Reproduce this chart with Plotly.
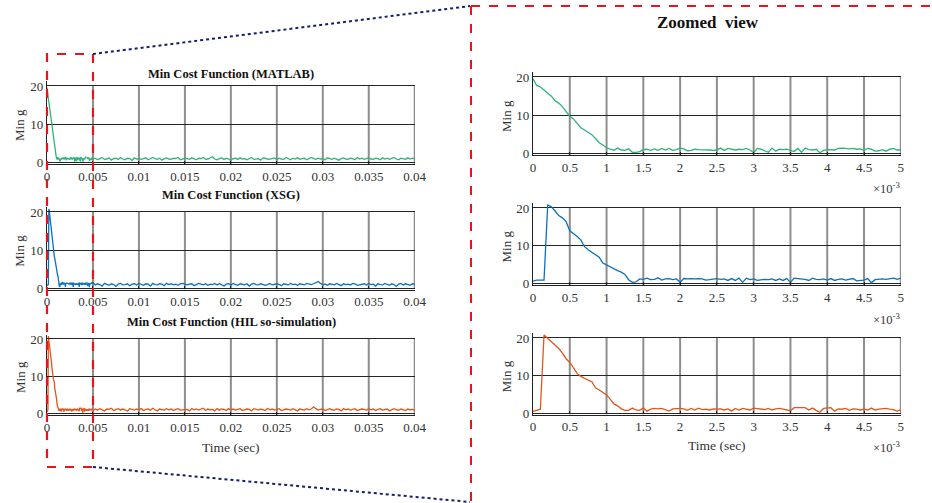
import plotly.graph_objects as go

# ---- data -------------------------------------------------------------
# zoomed window: 0 .. 5 ms, sample step 0.05 ms
zoom_step_ms = 0.05
matlab_zoom = [19.6, 17.8, 17.4, 16.6, 15.9, 15.0, 13.8, 13.2, 12.3, 11.0,
               9.8, 9.1, 8.0, 6.8, 6.2, 5.5, 5.0, 4.0, 2.9, 2.3,
               1.6, 1.2, 0.9, 1.5, 1.0, 0.9, 1.3, 0.4, 0.4, 0.6,
               1.1, 1.2, 0.9, 1.3, 0.9, 1.4, 1.0, 1.4, 0.9, 1.1,
               1.5, 1.3, 0.8, 0.9, 1.2, 1.1, 1.1, 1.0, 1.0, 0.9,
               1.0, 1.5, 0.9, 1.4, 1.1, 1.0, 1.2, 1.1, 1.4, 1.0,
               0.3, 1.4, 1.2, 0.9, 0.4, 1.5, 0.7, 1.2, 1.1, 1.2,
               0.9, 0.6, 1.4, 0.4, 1.5, 1.1, 1.0, 1.2, 0.3, 0.9,
               1.1, 1.0, 1.0, 1.4, 1.5, 1.4, 1.3, 1.4, 1.2, 1.3,
               0.9, 1.4, 1.2, 0.7, 0.8, 1.1, 0.7, 1.2, 1.4, 1.0,
               1.0]
xsg_zoom = [0.7, 1.0, 1.0, 1.0, 20.8, 20.3, 19.2, 18.0, 17.4, 16.4,
            14.0, 13.3, 12.5, 11.6, 9.8, 9.0, 8.3, 7.8, 7.0, 5.5,
            5.0, 4.3, 3.9, 3.5, 3.1, 2.5, 1.1, 0.4, 0.5, 1.3,
            1.2, 1.5, 1.1, 1.2, 1.6, 1.0, 1.3, 1.4, 1.1, 1.3,
            0.4, 1.4, 1.3, 1.4, 1.3, 1.4, 1.3, 1.0, 1.1, 1.3,
            1.4, 1.2, 1.3, 0.9, 1.4, 0.9, 1.5, 0.4, 1.5, 1.1,
            1.3, 0.9, 1.1, 1.2, 1.1, 1.3, 0.9, 1.3, 0.9, 1.4,
            0.4, 1.5, 1.4, 1.3, 1.2, 0.9, 1.5, 1.2, 1.1, 1.3,
            1.0, 1.4, 0.9, 1.2, 1.3, 1.0, 1.3, 1.4, 0.8, 0.9,
            1.0, 1.4, 0.3, 1.1, 1.2, 1.3, 1.2, 1.3, 1.5, 1.2,
            1.5]
hil_zoom = [0.5, 0.8, 1.1, 20.8, 19.9, 18.8, 18.0, 17.2, 16.0, 14.5,
            13.5, 12.0, 10.6, 9.8, 9.2, 8.8, 8.4, 6.8, 6.2, 5.5,
            4.9, 3.8, 2.5, 2.0, 1.2, 0.8, 0.8, 1.4, 0.9, 0.8,
            1.4, 0.6, 1.1, 1.3, 1.2, 1.3, 0.9, 0.6, 1.2, 1.3,
            1.3, 1.2, 0.8, 1.3, 0.9, 1.4, 1.0, 1.1, 0.9, 1.2,
            1.1, 1.2, 0.9, 1.2, 0.6, 1.3, 0.9, 1.3, 1.2, 0.9,
            1.4, 1.2, 1.1, 1.0, 1.3, 0.9, 1.2, 1.3, 1.1, 0.9,
            0.7, 1.5, 1.5, 1.4, 1.5, 0.9, 1.4, 0.8, 0.3, 1.3,
            1.4, 1.5, 0.6, 1.2, 1.1, 1.3, 0.8, 1.2, 1.1, 0.9,
            1.1, 0.9, 1.4, 0.9, 1.1, 1.2, 1.3, 1.1, 1.0, 0.6,
            0.9]

# remainder of the run: 5.25 .. 40 ms, sample step 0.25 ms
tail_start_ms = 5.25
tail_step_ms = 0.25
matlab_tail = [1.2, 0.8, 1.1, 1.4, 0.9, 1.0, 1.3, 0.7, 1.1, 1.2, 0.9, 1.4, 1.0, 0.8, 1.2, 1.1, 0.6, 1.3, 1.0, 1.1,
               0.9, 1.2, 1.3, 0.8, 1.0, 1.4, 1.1, 0.9, 1.2, 0.7, 1.1, 1.3, 1.0, 0.9, 1.2, 1.1, 1.4, 0.8, 1.0, 1.2,
               1.1, 0.9, 1.3, 1.0, 0.8, 1.2, 1.1, 1.4, 0.9, 1.0, 1.2, 1.6, 1.0, 0.8, 1.1, 1.3, 0.9, 1.2, 1.0, 0.7,
               1.1, 1.2, 0.9, 1.3, 1.0, 1.1, 0.8, 1.2, 1.4, 0.9, 1.0, 1.1, 0.7, 1.3, 1.2, 0.9, 1.0, 1.1, 1.3, 0.8,
               1.2, 1.0, 0.9, 1.4, 1.1, 0.8, 1.2, 1.0, 1.3, 0.9, 1.1, 1.2, 0.8, 1.0, 1.4, 1.1, 0.9, 1.2, 1.0, 1.1,
               0.8, 1.3, 1.1, 0.9, 1.2, 1.0, 0.7, 1.1, 1.3, 1.0, 0.9, 1.2, 1.1, 0.8, 1.4, 1.0, 1.2, 0.9, 1.1, 1.3,
               1.0, 0.9, 1.2, 1.1, 0.8, 1.3, 1.0, 1.2, 0.9, 1.1, 1.4, 1.0, 0.8, 1.2, 1.1, 0.9, 1.3, 1.0, 1.2, 1.1]
xsg_tail = [0.9, 1.2, 1.0, 0.6, 1.3, 1.1, 0.8, 1.2, 1.0, 0.5, 1.1, 1.3, 0.9, 1.0, 1.2, 0.7, 1.1, 1.2, 0.9, 1.3,
            1.0, 0.8, 1.2, 1.1, 0.6, 1.3, 1.0, 0.9, 1.2, 1.1, 0.7, 1.3, 1.0, 1.2, 0.9, 1.1, 0.8, 1.2, 1.3, 1.0,
            0.9, 1.1, 1.2, 0.7, 1.0, 1.3, 1.1, 0.9, 1.2, 0.8, 1.1, 1.0, 1.3, 0.9, 1.2, 1.0, 0.6, 1.1, 1.2, 0.9,
            1.3, 1.0, 0.8, 1.2, 1.1, 0.9, 1.2, 0.6, 1.1, 1.3, 1.0, 0.9, 1.2, 1.1, 0.8, 1.0, 1.3, 0.9, 1.1, 1.2,
            1.0, 0.7, 1.2, 1.1, 0.9, 1.3, 1.0, 1.1, 0.8, 1.2, 1.0, 0.9, 1.3, 1.1, 1.0, 1.2, 1.4, 1.8, 1.3, 1.0,
            1.1, 0.8, 1.2, 1.0, 0.9, 1.3, 1.1, 0.7, 1.2, 1.0, 1.1, 0.9, 1.3, 1.2, 0.8, 1.0, 1.1, 1.2, 0.9, 1.3,
            1.0, 1.1, 0.6, 1.2, 1.0, 0.9, 1.3, 1.1, 0.8, 1.2, 1.0, 0.5, 1.1, 1.3, 0.9, 1.2, 1.0, 0.8, 1.2, 1.1]
hil_tail = [1.3, 1.0, 1.4, 1.1, 0.8, 1.3, 1.2, 1.5, 0.9, 1.2, 1.4, 1.0, 1.3, 1.1, 0.7, 1.4, 1.2, 1.0, 1.3, 1.1,
            1.4, 0.9, 1.2, 1.3, 1.0, 1.5, 1.1, 0.8, 1.3, 1.2, 1.0, 1.4, 1.1, 1.3, 0.9, 1.2, 1.4, 1.0, 1.1, 1.3,
            1.2, 0.8, 1.4, 1.1, 1.3, 1.0, 1.2, 1.5, 0.9, 1.3, 1.1, 1.2, 0.8, 1.4, 1.0, 1.3, 1.2, 0.9, 1.4, 1.1,
            1.3, 1.0, 1.2, 1.4, 0.9, 1.1, 1.3, 1.2, 0.8, 1.4, 1.1, 1.0, 1.3, 1.2, 0.9, 1.5, 1.1, 1.3, 1.0, 1.2,
            1.4, 0.9, 1.1, 1.3, 1.2, 1.0, 1.4, 1.1, 0.8, 1.3, 1.2, 1.0, 1.4, 1.1, 1.3, 1.9, 1.4, 1.0, 1.2, 1.3,
            0.9, 1.2, 1.4, 1.1, 1.0, 1.3, 1.2, 0.8, 1.4, 1.1, 1.3, 1.0, 1.2, 1.4, 0.9, 1.1, 1.3, 1.2, 1.0, 1.4,
            1.1, 1.3, 0.9, 1.2, 1.4, 1.0, 1.1, 1.3, 0.8, 1.2, 1.4, 1.1, 1.0, 1.3, 1.2, 0.9, 1.3, 1.1, 1.2, 1.0]

panel_titles = ["Min Cost Function (MATLAB)", "Min Cost Function (XSG)",
                "Min Cost Function (HIL so-simulation)"]
series_colors = ["#2BB57A", "#0A72BD", "#E0561E"]

full_ticks = [0, 0.005, 0.01, 0.015, 0.02, 0.025, 0.03, 0.035, 0.04]
full_ticktext = ["0", "0.005", "0.01", "0.015", "0.02", "0.025", "0.03", "0.035", "0.04"]
zoom_ticks = [0, 0.5, 1, 1.5, 2, 2.5, 3, 3.5, 4, 4.5, 5]
zoom_ticktext = ["0", "0.5", "1", "1.5", "2", "2.5", "3", "3.5", "4", "4.5", "5"]
y_ticks = [0, 10, 20]

# ---- time bases ---------------------------------------------------------
t_zoom_ms = [round(i * zoom_step_ms, 4) for i in range(len(matlab_zoom))]
t_tail_ms = [round(tail_start_ms + i * tail_step_ms, 4) for i in range(len(matlab_tail))]
t_full_s = [t / 1000.0 for t in t_zoom_ms + t_tail_ms]

zoom_series = [matlab_zoom, xsg_zoom, hil_zoom]
full_series = [matlab_zoom + matlab_tail, xsg_zoom + xsg_tail, hil_zoom + hil_tail]

# ---- layout geometry ------------------------------------------------------
W, H = 932, 503
SERIF = "Liberation Serif, Times New Roman, serif"
Y_LO, Y_GRID_TOP, Y_HI = -0.3, 20.0, 21.2


def px(x):
    return x / W


def py(y):
    return 1 - y / H


def row_domain(top20, bottom):
    # top20 = pixel row of the y=20 gridline, bottom = pixel row of the x axis
    unit = (bottom - top20) / (Y_GRID_TOP - Y_LO)
    top = top20 - (Y_HI - Y_GRID_TOP) * unit
    return [py(bottom), py(top)]


left_x0, left_x1 = 47, 415
right_x0, right_x1 = 533, 901
left_dom = [px(left_x0), px(left_x1)]
right_dom = [px(right_x0), px(right_x1)]
left_rows = [(86, 164), (212, 289.5), (339, 415)]
right_rows = [(77, 155), (208, 285), (338, 414.5)]

fig = go.Figure()

axis_common = dict(showline=True, linecolor="#222", linewidth=1.2,
                   ticks="inside", ticklen=3, tickcolor="#222", zeroline=False,
                   automargin=False,
                   tickfont=dict(family=SERIF, size=13, color="#333333"))
grid_h = dict(showgrid=True, gridcolor="#262626", gridwidth=1)
vgrid_color = "#8e8e8e"

layout = dict(
    template="none",
    width=W, height=H,
    margin=dict(l=0, r=0, t=0, b=0, autoexpand=False),
    paper_bgcolor="white", plot_bgcolor="white",
    showlegend=False,
)

shapes = []


def vertical_grid(xname, yname, ticks):
    # vertical grid lines that stop at the y = 20 grid line
    return [dict(type="line", xref=xname, yref=yname, x0=t, x1=t, y0=Y_LO, y1=Y_GRID_TOP,
                 line=dict(color=vgrid_color, width=2), layer="below") for t in ticks]


for i in range(3):
    # full-length panel (left column)
    ax = i + 1
    fig.add_trace(go.Scatter(
        x=t_full_s, y=full_series[i], mode="lines",
        line=dict(color=series_colors[i], width=1.3),
        xaxis=f"x{ax}", yaxis=f"y{ax}", hoverinfo="skip"))
    layout[f"xaxis{ax if ax > 1 else ''}"] = dict(
        domain=left_dom, anchor=f"y{ax}", range=[0, 0.04003], showgrid=False,
        tickvals=full_ticks, ticktext=full_ticktext, **axis_common)
    layout[f"yaxis{ax if ax > 1 else ''}"] = dict(
        domain=row_domain(*left_rows[i]), anchor=f"x{ax}", range=[Y_LO, Y_HI],
        tickvals=y_ticks, **axis_common, **grid_h)
    shapes += vertical_grid(f"x{ax}", f"y{ax}", full_ticks[1:])

    # zoomed panel (right column)
    az = i + 4
    fig.add_trace(go.Scatter(
        x=t_zoom_ms, y=zoom_series[i], mode="lines",
        line=dict(color=series_colors[i], width=1.3),
        xaxis=f"x{az}", yaxis=f"y{az}", hoverinfo="skip"))
    layout[f"xaxis{az}"] = dict(
        domain=right_dom, anchor=f"y{az}", range=[0, 5.003], showgrid=False,
        tickvals=zoom_ticks, ticktext=zoom_ticktext, **axis_common)
    layout[f"yaxis{az}"] = dict(
        domain=row_domain(*right_rows[i]), anchor=f"x{az}", range=[Y_LO, Y_HI],
        tickvals=y_ticks, **axis_common, **grid_h)
    shapes += vertical_grid(f"x{az}", f"y{az}", zoom_ticks[1:])

fig.update_layout(**layout)


def note(text, x, y, size, color="#333", angle=0):
    return dict(text=text, x=px(x), y=py(y), xref="paper", yref="paper",
                xanchor="center", yanchor="middle", showarrow=False, textangle=angle,
                font=dict(family=SERIF, size=size, color=color))


annotations = []
title_y = [74, 195, 322]
for i in range(3):
    annotations.append(note(f"<b>{panel_titles[i]}</b>", 231, title_y[i], 12.5, "#111"))
    annotations.append(note("Min g", 20, (left_rows[i][0] + left_rows[i][1]) / 2, 13, angle=-90))
    annotations.append(note("Min g", 506, (right_rows[i][0] + right_rows[i][1]) / 2, 13, angle=-90))

annotations.append(note("Time (sec)", 231, 447, 13.5))
annotations.append(note("Time (sec)", 717, 445, 13.5))

# exponent labels under the zoomed axes
for yy in (188, 319, 447):
    annotations.append(note("\u00d710<sup>-3</sup>", 886, yy, 12.5))

annotations.append(note("<b>Zoomed  view</b>", 708, 22, 17, "#111"))

# zoom-region highlight and connecting lines (paper coordinates)
red = "#E8141B"
navy = "#14206B"
box_x1 = left_x0 + (left_x1 - left_x0) * 0.005 / 0.04
shapes += [
    dict(type="rect", xref="paper", yref="paper", x0=px(left_x0), x1=px(box_x1),
         y0=py(467), y1=py(54),
         line=dict(color=red, width=2.2, dash="dash"), fillcolor="rgba(0,0,0,0)", layer="above"),
    dict(type="line", xref="paper", yref="paper", x0=px(471), x1=px(471), y0=py(6), y1=-0.02,
         line=dict(color=red, width=2, dash="dash")),
    dict(type="line", xref="paper", yref="paper", x0=px(471), x1=1.01, y0=py(6), y1=py(6),
         line=dict(color=red, width=2, dash="dash")),
    dict(type="line", xref="paper", yref="paper", x0=px(box_x1), x1=px(470),
         y0=py(54), y1=py(6), line=dict(color=navy, width=2, dash="dot")),
    dict(type="line", xref="paper", yref="paper", x0=px(box_x1), x1=px(470),
         y0=py(467), y1=py(502), line=dict(color=navy, width=2, dash="dot")),
]

fig.update_layout(annotations=annotations, shapes=shapes)
fig.write_html("out.html")
